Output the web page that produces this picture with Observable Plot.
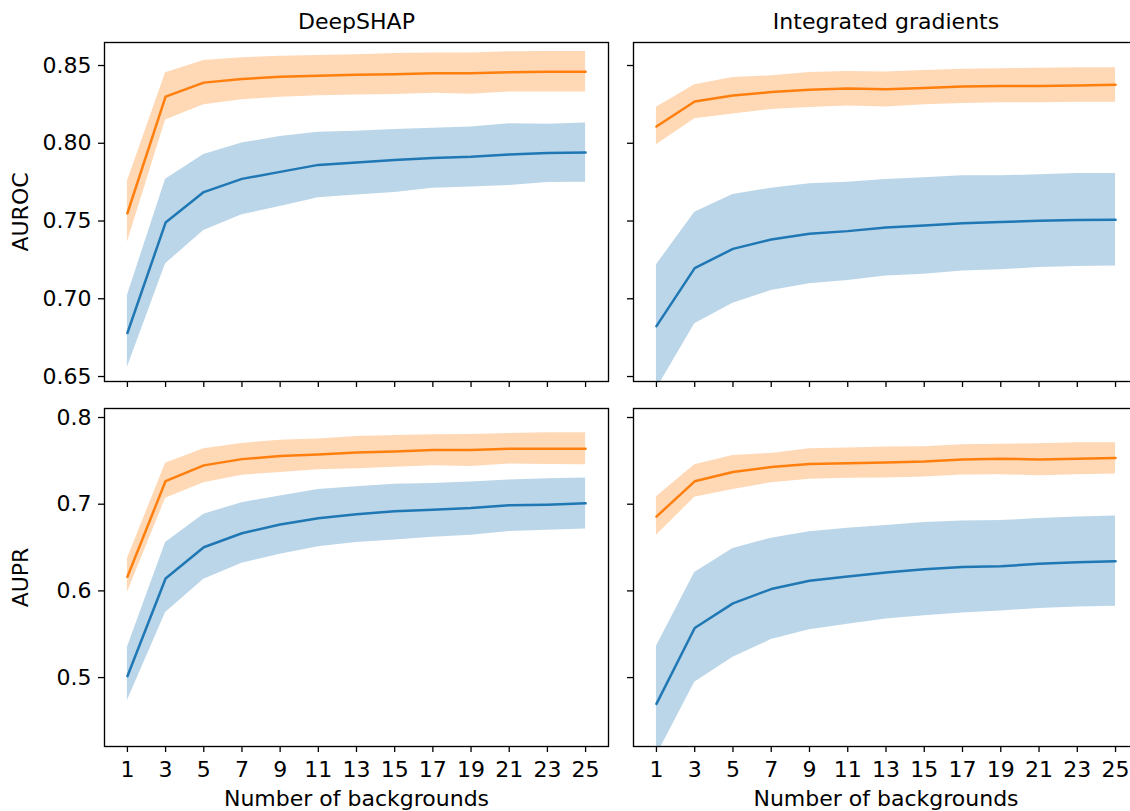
<!DOCTYPE html>
<html>
<head>
<meta charset="utf-8">
<script src="https://cdn.jsdelivr.net/npm/d3@7"></script>
<script src="https://cdn.jsdelivr.net/npm/@observablehq/plot@0.6"></script>
<style>
  html, body { margin: 0; padding: 0; background: white; }
  #wrap { position: relative; width: 1130px; height: 811px; overflow: hidden; background: white; }
</style>
</head>
<body>
<div id="wrap"></div>
<script>
// ---- data ----
const backgrounds = [1, 3, 5, 7, 9, 11, 13, 15, 17, 19, 21, 23, 25];
const columnTitles = ["DeepSHAP", "Integrated gradients"];
const rowLabels = ["AUROC", "AUPR"];
const xLabel = "Number of backgrounds";
const aurocTicks = [0.65, 0.70, 0.75, 0.80, 0.85];
const auprTicks = [0.5, 0.6, 0.7, 0.8];

// DeepSHAP AUROC
const dsAurocOrange   = [0.755, 0.830, 0.839, 0.8414, 0.8427, 0.8434, 0.844, 0.8444, 0.8451, 0.845, 0.8457, 0.846, 0.846];
const dsAurocOrangeHi = [0.7756, 0.8453, 0.8532, 0.855, 0.856, 0.8564, 0.857, 0.8577, 0.858, 0.858, 0.8588, 0.859, 0.859];
const dsAurocOrangeLo = [0.7364, 0.815, 0.8247, 0.828, 0.8296, 0.8305, 0.831, 0.8314, 0.8322, 0.8316, 0.8329, 0.833, 0.833];
const dsAurocBlue     = [0.678, 0.749, 0.7686, 0.7771, 0.7816, 0.7861, 0.7876, 0.7893, 0.7906, 0.7913, 0.7928, 0.7938, 0.794];
const dsAurocBlueHi   = [0.7021, 0.7769, 0.7928, 0.8001, 0.8043, 0.8071, 0.8078, 0.8089, 0.8097, 0.8104, 0.8125, 0.8123, 0.8131];
const dsAurocBlueLo   = [0.656, 0.7225, 0.7439, 0.754, 0.7593, 0.7649, 0.7668, 0.7683, 0.7711, 0.7718, 0.7728, 0.7748, 0.775];

// Integrated gradients AUROC
const igAurocOrange   = [0.8108, 0.8269, 0.8307, 0.8329, 0.8344, 0.8352, 0.8348, 0.8356, 0.8365, 0.8369, 0.8369, 0.8371, 0.8376];
const igAurocOrangeHi = [0.8232, 0.8376, 0.8423, 0.8434, 0.8455, 0.8461, 0.8459, 0.8468, 0.8476, 0.8479, 0.8483, 0.8485, 0.8485];
const igAurocOrangeLo = [0.799, 0.8157, 0.8189, 0.8217, 0.823, 0.8239, 0.8234, 0.8247, 0.8256, 0.826, 0.826, 0.8264, 0.8264];
const igAurocBlue     = [0.6824, 0.7197, 0.7321, 0.7381, 0.7418, 0.7435, 0.7458, 0.7471, 0.7486, 0.7493, 0.7501, 0.7506, 0.7508];
const igAurocBlueHi   = [0.7218, 0.7557, 0.7671, 0.7711, 0.7739, 0.775, 0.7767, 0.7778, 0.7791, 0.7791, 0.7797, 0.7806, 0.7806];
const igAurocBlueLo   = [0.642, 0.6839, 0.6972, 0.7053, 0.7096, 0.7118, 0.7146, 0.7158, 0.7178, 0.7186, 0.7201, 0.7208, 0.721];

// DeepSHAP AUPR
const dsAuprOrange   = [0.6163, 0.7267, 0.7448, 0.752, 0.7555, 0.7574, 0.7597, 0.7609, 0.7624, 0.7624, 0.7639, 0.7639, 0.7639];
const dsAuprOrangeHi = [0.6374, 0.7471, 0.7639, 0.7701, 0.7739, 0.7751, 0.7781, 0.7793, 0.7801, 0.7804, 0.7816, 0.7824, 0.7824];
const dsAuprOrangeLo = [0.5982, 0.7068, 0.7248, 0.7333, 0.7367, 0.7398, 0.7409, 0.7425, 0.7444, 0.7436, 0.7463, 0.7459, 0.7455];
const dsAuprBlue     = [0.5016, 0.6143, 0.6504, 0.6665, 0.6765, 0.6838, 0.6884, 0.6918, 0.6937, 0.6957, 0.6987, 0.6995, 0.701];
const dsAuprBlueHi   = [0.535, 0.6558, 0.6884, 0.7018, 0.7095, 0.7171, 0.7202, 0.7229, 0.724, 0.7256, 0.7279, 0.7294, 0.7302];
const dsAuprBlueLo   = [0.4736, 0.5752, 0.6135, 0.6319, 0.6423, 0.6508, 0.6557, 0.6588, 0.6619, 0.6642, 0.6684, 0.67, 0.6715];

// Integrated gradients AUPR
const igAuprOrange   = [0.6857, 0.7264, 0.7371, 0.7428, 0.7463, 0.7471, 0.7482, 0.7494, 0.7517, 0.7524, 0.7517, 0.7524, 0.7532];
const igAuprOrangeHi = [0.7087, 0.7455, 0.7563, 0.7586, 0.7639, 0.7647, 0.7659, 0.7662, 0.7685, 0.7693, 0.7697, 0.7708, 0.7708];
const igAuprOrangeLo = [0.6642, 0.7079, 0.7171, 0.7248, 0.7287, 0.7298, 0.7302, 0.7313, 0.7336, 0.734, 0.7329, 0.734, 0.7348];
const igAuprBlue     = [0.4697, 0.5572, 0.5856, 0.6021, 0.6117, 0.6166, 0.6212, 0.6251, 0.6277, 0.6285, 0.6312, 0.6331, 0.6343];
const igAuprBlueHi   = [0.5361, 0.6212, 0.6489, 0.6608, 0.6681, 0.6723, 0.6753, 0.6788, 0.6807, 0.6811, 0.6834, 0.6853, 0.6865];
const igAuprBlueLo   = [0.41, 0.4947, 0.5234, 0.5438, 0.5553, 0.5614, 0.5676, 0.5714, 0.5744, 0.5768, 0.5798, 0.5814, 0.5822];

// ---- build ----
const BLUE = "#1f77b4", ORANGE = "#ff7f0e";
const FS = 22;

function rows(mean, lo, hi) {
  return backgrounds.map((x, i) => ({x, y: mean[i], lo: lo[i], hi: hi[i]}));
}

function panel({series, row, col}) {
  const top = row === 0;
  const left = col === 0;
  const width = left ? 616 : 530;
  const height = top ? 395 : 416;
  const marginLeft = left ? 104 : 17;
  const marginRight = 8;
  const marginTop = top ? 42 : 13;
  const marginBottom = top ? 14 : 65;
  const yDomain = top ? [0.6468, 0.8648] : [0.4205, 0.8104];
  const yTicks = top ? aurocTicks : auprTicks;
  const yFmt = top ? d3.format(".2f") : d3.format(".1f");
  const marks = [];
  for (const s of series) {
    const d = rows(s.mean, s.lo, s.hi);
    marks.push(Plot.areaY(d, {x: "x", y1: "lo", y2: "hi", fill: s.color, fillOpacity: 0.3, clip: true}));
    marks.push(Plot.lineY(d, {x: "x", y: "y", stroke: s.color, strokeWidth: 2.5, clip: true}));
  }
  marks.push(Plot.axisY({ticks: yTicks, tickSize: 6, tickPadding: 7, fontSize: FS, strokeWidth: 1.3,
    tickFormat: left ? yFmt : () => "", label: null}));
  marks.push(Plot.axisX({ticks: backgrounds, tickSize: 6, tickPadding: 9, fontSize: FS, strokeWidth: 1.3,
    tickFormat: top ? () => "" : d => String(d), label: null}));
  marks.push(Plot.frame({stroke: "black", strokeWidth: 1.35}));
  if (top) {
    marks.push(Plot.text([columnTitles[col]], {frameAnchor: "top", dy: -13.7, lineAnchor: "bottom", fontSize: FS, fill: "black"}));
  } else {
    marks.push(Plot.text([xLabel], {frameAnchor: "bottom", dy: 59.5, lineAnchor: "bottom", fontSize: FS, fill: "black"}));
  }
  if (left) {
    marks.push(Plot.text([rowLabels[row]], {frameAnchor: "left", dx: -84, rotate: -90, lineAnchor: "middle", textAnchor: "middle", fontSize: FS, fill: "black"}));
  }
  const svg = Plot.plot({
    width, height, marginLeft, marginRight, marginTop, marginBottom,
    style: {fontFamily: "DejaVu Sans", fontSize: FS + "px", color: "black", background: "transparent", overflow: "visible", maxWidth: "none"},
    x: {domain: [-0.2, 26.2]},
    y: {domain: yDomain},
    marks
  });
  svg.style.position = "absolute";
  svg.style.left = (left ? 0 : 616) + "px";
  svg.style.top = (top ? 0 : 395) + "px";
  return svg;
}

const wrap = document.getElementById("wrap");
const panels = [
  {row: 0, col: 0, series: [
    {mean: dsAurocBlue, lo: dsAurocBlueLo, hi: dsAurocBlueHi, color: BLUE},
    {mean: dsAurocOrange, lo: dsAurocOrangeLo, hi: dsAurocOrangeHi, color: ORANGE}]},
  {row: 0, col: 1, series: [
    {mean: igAurocBlue, lo: igAurocBlueLo, hi: igAurocBlueHi, color: BLUE},
    {mean: igAurocOrange, lo: igAurocOrangeLo, hi: igAurocOrangeHi, color: ORANGE}]},
  {row: 1, col: 0, series: [
    {mean: dsAuprBlue, lo: dsAuprBlueLo, hi: dsAuprBlueHi, color: BLUE},
    {mean: dsAuprOrange, lo: dsAuprOrangeLo, hi: dsAuprOrangeHi, color: ORANGE}]},
  {row: 1, col: 1, series: [
    {mean: igAuprBlue, lo: igAuprBlueLo, hi: igAuprBlueHi, color: BLUE},
    {mean: igAuprOrange, lo: igAuprOrangeLo, hi: igAuprOrangeHi, color: ORANGE}]}
];
for (const p of panels) wrap.appendChild(panel(p));
</script>
</body>
</html>
